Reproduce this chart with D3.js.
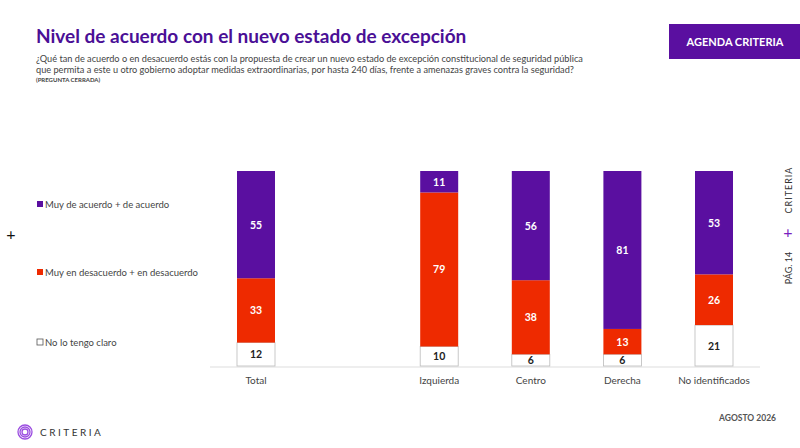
<!DOCTYPE html>
<html lang="en">
<head>
<meta charset="UTF-8">
<title>Nivel de acuerdo</title>
<script src="https://d3js.org/d3.v7.min.js"></script>
<style>
  body { margin: 0; background: #fff; }
  text { font-family: Lato, "Open Sans", sans-serif; }
</style>
</head>
<body>
<div id="chart"></div>
<script>
// data
const categories = ["Total", "", "Izquierda", "Centro", "Derecha", "No identificados"];
const acuerdo    = [55, null, 11, 56, 81, 53];
const desacuerdo = [33, null, 79, 38, 13, 26];
const noClaro    = [12, null, 10, 6, 6, 21];
const seriesNames = ["Muy de acuerdo + de acuerdo", "Muy en desacuerdo + en desacuerdo", "No lo tengo claro"];
const colors = ["#5a0fa0", "#ee2a00", "#ffffff"];

const W = 800, H = 448;
const svg = d3.select("#chart").append("svg").attr("width", W).attr("height", H);

// header
svg.append("text").attr("x", 36).attr("y", 43).attr("fill", "#4a0f96")
  .attr("font-size", 19).attr("font-weight", 700).text("Nivel de acuerdo con el nuevo estado de excepción");
svg.append("text").attr("x", 36).attr("y", 62).attr("fill", "#444").attr("font-size", 9.2)
  .text("¿Qué tan de acuerdo o en desacuerdo estás con la propuesta de crear un nuevo estado de excepción constitucional de seguridad pública");
svg.append("text").attr("x", 36).attr("y", 73).attr("fill", "#444").attr("font-size", 9.2)
  .text("que permita a este u otro gobierno adoptar medidas extraordinarias, por hasta 240 días, frente a amenazas graves contra la seguridad?");
svg.append("text").attr("x", 36).attr("y", 82).attr("fill", "#444").attr("font-size", 6).attr("font-weight", 700)
  .text("(PREGUNTA CERRADA)");
svg.append("rect").attr("x", 669).attr("y", 24).attr("width", 131).attr("height", 35).attr("fill", "#5a0fa0");
svg.append("text").attr("x", 735).attr("y", 46).attr("text-anchor", "middle").attr("fill", "#fff")
  .attr("font-size", 11).attr("font-weight", 700).text("AGENDA CRITERIA");

// right side vertical labels
svg.append("text").attr("transform", "translate(792,190) rotate(-90)").attr("text-anchor", "middle")
  .attr("font-size", 9).attr("fill", "#333").attr("letter-spacing", 1).text("CRITERIA");
svg.append("text").attr("x", 788).attr("y", 238).attr("text-anchor", "middle")
  .attr("font-size", 16).attr("fill", "#7a1fc0").text("+");
svg.append("text").attr("transform", "translate(792,268) rotate(-90)").attr("text-anchor", "middle")
  .attr("font-size", 9).attr("fill", "#333").text("PÁG. 14");
svg.append("text").attr("x", 11).attr("y", 240).attr("text-anchor", "middle")
  .attr("font-size", 16).attr("fill", "#111").text("+");

// legend
const legY = [208, 276, 346];
seriesNames.forEach((n, i) => {
  svg.append("rect").attr("x", 37).attr("y", legY[i] - 7).attr("width", 6).attr("height", 6)
    .attr("fill", colors[i]).attr("stroke", i === 2 ? "#555" : "none").attr("stroke-width", 0.8);
  svg.append("text").attr("x", 45).attr("y", legY[i]).attr("font-size", 9.5).attr("fill", "#444").text(n);
});

// scales
const x = d3.scalePoint().domain(categories).range([256, 714]);
const y = d3.scaleLinear().domain([0, 100]).range([366, 171]);
const bw = 38;

const rows = categories.map((c, i) => ({ c, vals: [noClaro[i], desacuerdo[i], acuerdo[i]] }))
  .filter(d => d.c !== "");
const order = [2, 1, 0]; // bottom to top: no claro, desacuerdo, acuerdo

svg.append("line").attr("x1", 210).attr("x2", 760).attr("y1", 367).attr("y2", 367)
  .attr("stroke", "#ddd").attr("stroke-width", 1);

rows.forEach(r => {
  let acc = 0;
  r.vals.forEach((v, k) => {
    const col = colors[order[k]];
    const y0 = y(acc), y1 = y(acc + v);
    svg.append("rect").attr("x", x(r.c) - bw / 2).attr("y", y1).attr("width", bw)
      .attr("height", y0 - y1).attr("fill", col)
      .attr("stroke", k === 0 ? "#bbb" : "none").attr("stroke-width", 0.8);
    svg.append("text").attr("x", x(r.c)).attr("y", (y0 + y1) / 2 + 4).attr("text-anchor", "middle")
      .attr("font-size", 10.5).attr("font-weight", 700).attr("fill", k === 0 ? "#222" : "#fff").text(v);
    acc += v;
  });
});

svg.append("g").selectAll("text").data(rows).join("text")
  .attr("x", d => x(d.c)).attr("y", 384).attr("text-anchor", "middle")
  .attr("font-size", 10).attr("fill", "#444").text(d => d.c);

// footer
svg.append("text").attr("x", 776).attr("y", 421).attr("text-anchor", "end").attr("font-size", 8.5)
  .attr("font-weight", 700).attr("fill", "#555").text("AGOSTO 2026");
[7, 5, 3].forEach(r => svg.append("circle").attr("cx", 25).attr("cy", 432).attr("r", r)
  .attr("fill", "none").attr("stroke", "#9b4de0").attr("stroke-width", 1.3));
svg.append("text").attr("x", 40).attr("y", 436).attr("font-size", 10).attr("letter-spacing", 2.5)
  .attr("fill", "#333").text("CRITERIA");
</script>
</body>
</html>
